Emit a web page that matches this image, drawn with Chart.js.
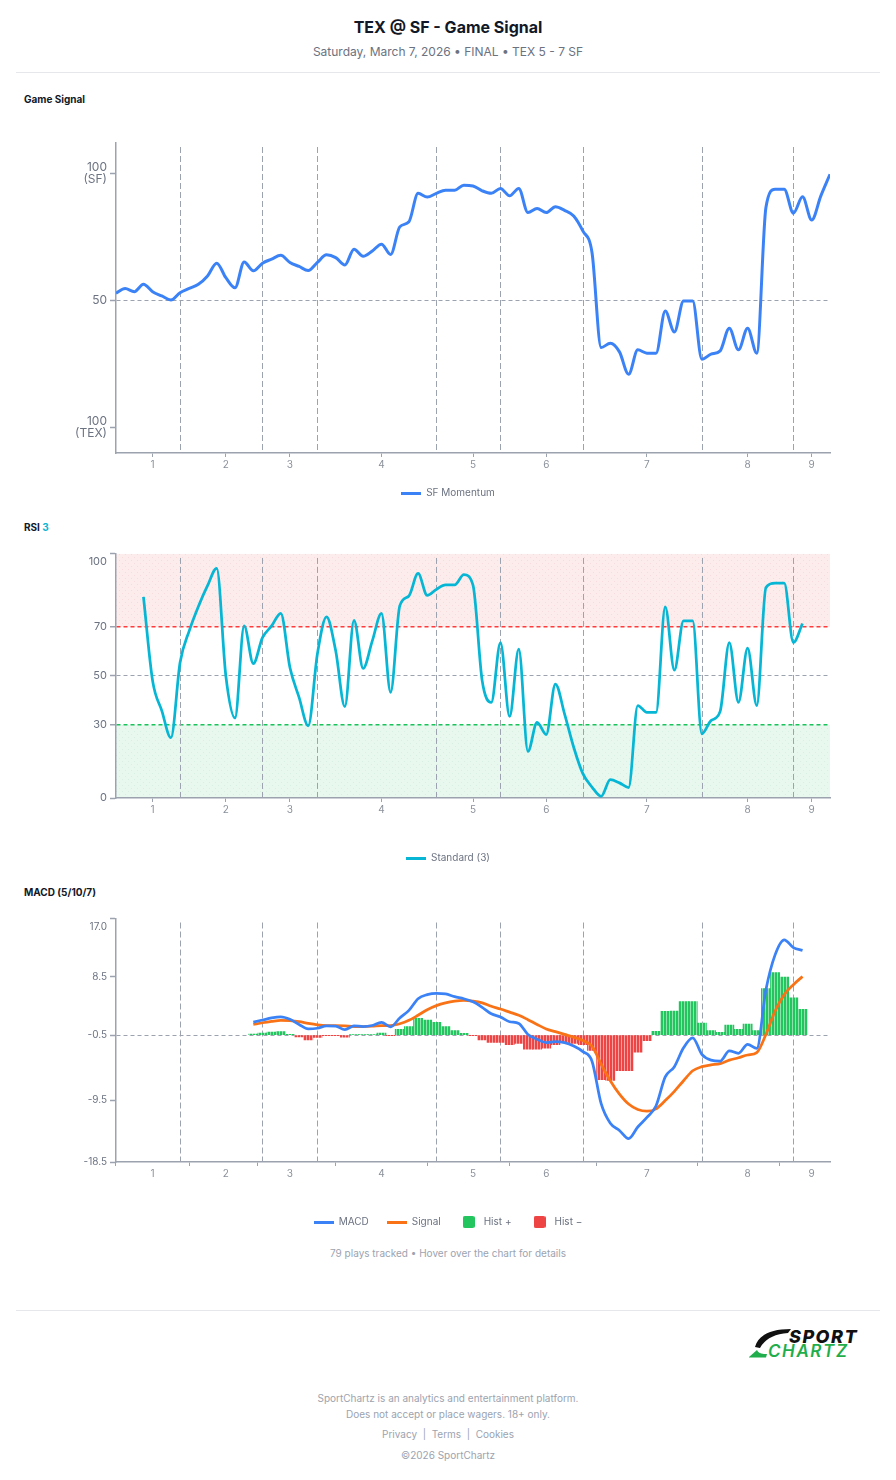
<!DOCTYPE html>
<html lang="en">
<head>
<meta charset="utf-8">
<title>TEX @ SF - Game Signal</title>
<script src="https://cdn.jsdelivr.net/npm/chart.js@4.4.1/dist/chart.umd.min.js"></script>
<style>
  html, body { margin: 0; padding: 0; background: #fff; }
  body { width: 896px; height: 1480px; position: relative; font-family: Inter, "Noto Sans", sans-serif; color: #111827; }
  .abs { position: absolute; }
  .center { left: 0; width: 896px; text-align: center; }
  .title { top: 17px; font-size: 16px; line-height: 20px; font-weight: 700; }
  .subtitle { top: 44px; font-size: 12px; line-height: 16px; color: #6b7280; }
  .rule { left: 16px; width: 864px; height: 1px; background: #e5e7eb; }
  .section { left: 24px; font-size: 10px; line-height: 14px; font-weight: 700; color: #111827; }
  .chart { left: 16px; width: 864px; }
  .note { font-size: 10px; line-height: 14px; color: #9ca3af; }
</style>
</head>
<body>
<div class="abs center title">TEX @ SF - Game Signal</div>
<div class="abs center subtitle">Saturday, March 7, 2026 • FINAL • TEX 5 - 7 SF</div>
<div class="abs rule" style="top:72px"></div>

<div class="abs section" style="top:92px">Game Signal</div>
<div class="abs chart" style="top:125px;height:383px"><canvas id="signalChart"></canvas></div>

<div class="abs section" style="top:520px">RSI <span style="color:#06b6d4">3</span></div>
<div class="abs chart" style="top:535px;height:338px"><canvas id="rsiChart"></canvas></div>

<div class="abs section" style="top:885px">MACD (5/10/7)</div>
<div class="abs chart" style="top:899px;height:338px"><canvas id="macdChart"></canvas></div>

<div class="abs center note" style="top:1246px">79 plays tracked • Hover over the chart for details</div>
<div class="abs rule" style="top:1310px"></div>

<svg class="abs" style="left:746px;top:1324px" width="124" height="38" viewBox="0 0 124 38">
  <path d="M9 23 C 12 12, 23 5, 45 5 L 42 9 C 28 10, 19 15, 14 24 Z" fill="#111"/>
  <path d="M3 33 L 11 26 C 12 29, 15 30, 21 30 L 20 33.5 L 3 33.5 Z" fill="#1fae4b"/>
  <text x="43" y="19" font-family="Inter" font-weight="800" font-style="italic" font-size="18" letter-spacing="1.5" fill="#111">SPORT</text>
  <text x="22" y="33" font-family="Inter" font-weight="600" font-style="italic" font-size="17" letter-spacing="1.6" fill="#1fae4b">CHARTZ</text>
</svg>

<div class="abs center note" style="top:1391px">SportChartz is an analytics and entertainment platform.</div>
<div class="abs center note" style="top:1407px">Does not accept or place wagers. 18+ only.</div>
<div class="abs center note" style="top:1427px">Privacy &nbsp;|&nbsp; Terms &nbsp;|&nbsp; Cookies</div>
<div class="abs center note" style="top:1448px">©2026 SportChartz</div>

<script>
// x = play number (0 = first play tracked), 79 plays
const inningLabels = ["1", "2", "3", "4", "5", "6", "7", "8", "9"];
const inningLabelPlays = [4, 12, 19, 29, 39, 47, 58, 69, 76];
const inningBreakPlays = [7, 16, 22, 35, 42, 51, 64, 74];

// Game signal: 0 = TEX 100, 50 = even, 100 = SF 100
const sfMomentum = [
  52.9, 54.7, 53.5, 56.4, 53.5, 51.8, 50.2, 53.1, 54.8, 56.4,
  59.7, 64.7, 59.0, 55.0, 65.2, 61.7, 64.7, 66.3, 67.8, 65.0,
  63.4, 61.8, 65.0, 68.0, 66.9, 64.0, 70.2, 67.4, 69.5, 72.2,
  68.1, 79.0, 81.0, 92.2, 90.7, 92.2, 93.4, 93.4, 95.4, 95.1,
  93.2, 92.2, 94.1, 91.2, 94.1, 84.6, 86.2, 84.6, 86.9, 85.5,
  83.3, 77.4, 68.9, 31.5, 33.2, 29.8, 21.0, 30.6, 29.3, 29.3,
  45.9, 37.6, 49.8, 49.8, 26.9, 28.9, 30.2, 39.1, 30.6, 39.1,
  29.3, 86.6, 93.8, 93.8, 84.4, 90.8, 81.7, 91.2, 99.7
];
const signalTicks = [0, 50, 100];
const signalTickLabels = [["100", "(TEX)"], "50", ["100", "(SF)"]];

const rsi3 = [
  null, null, null, 82.4, 48.0, 35.8, 24.7, 55.5, 68.5, 78.5,
  87.0, 94.1, 50.0, 32.8, 70.5, 55.1, 65.7, 70.5, 75.7, 53.5,
  41.2, 29.6, 59.0, 74.2, 60.3, 37.4, 72.8, 53.1, 64.4, 75.6,
  43.3, 78.7, 82.8, 92.0, 83.0, 85.5, 87.3, 87.3, 91.5, 87.2,
  48.1, 39.2, 63.7, 33.4, 61.0, 19.1, 31.0, 26.0, 46.7, 34.5,
  20.8, 10.0, 4.5, 0.7, 7.5, 6.2, 4.3, 37.9, 35.1, 35.1,
  78.3, 52.4, 72.6, 72.6, 26.3, 31.7, 35.5, 63.7, 39.2, 61.4,
  37.9, 86.2, 88.0, 88.0, 63.7, 71.5, null, null, null
];
const rsiTicks = [0, 30, 50, 70, 100];
const rsiTickLabels = ["0", "30", "50", "70", ["", "100"]];

const macdLine = [
  null, null, null, null, null, null, null, null, null, null,
  null, null, null, null, null, 1.9, 2.2, 2.5, 2.65, 2.3,
  1.55, 0.9, 1.0, 1.35, 1.3, 0.8, 1.35, 1.25, 1.4, 1.85,
  1.2, 2.5, 3.6, 5.3, 5.9, 6.1, 6.0, 5.6, 5.3, 4.85,
  4.05, 3.1, 2.65, 1.95, 1.7, 0.1, -0.6, -1.1, -0.95, -1.1,
  -1.6, -2.4, -3.8, -10.0, -12.85, -13.9, -15.1, -13.4, -12.0, -10.3,
  -6.1, -4.6, -1.85, -0.4, -2.8, -3.65, -3.8, -2.3, -2.65, -1.35,
  -1.95, 6.6, 11.7, 13.9, 12.75, 12.35, null, null, null
];
const macdSignal = [
  null, null, null, null, null, null, null, null, null, null,
  null, null, null, null, null, 1.55, 1.8, 2.0, 2.15, 2.1,
  1.95, 1.7, 1.5, 1.4, 1.4, 1.35, 1.25, 1.25, 1.3, 1.4,
  1.4, 1.65, 2.15, 2.9, 3.7, 4.3, 4.7, 4.95, 5.05, 4.95,
  4.7, 4.2, 3.8, 3.35, 2.9, 2.25, 1.55, 0.9, 0.5, 0.1,
  -0.3, -0.8, -1.6, -4.25, -6.65, -8.6, -10.05, -10.85, -11.1, -10.75,
  -9.55, -8.2, -6.65, -5.2, -4.6, -4.35, -4.15, -3.65, -3.3, -2.9,
  -2.55, 0.1, 3.5, 5.9, 7.35, 8.55, null, null, null
];
const macdHist = [
  null, null, null, null, null, null, null, null, null, null,
  null, null, null, null, null, 0.15, 0.3, 0.45, 0.5, 0.1,
  -0.25, -0.7, -0.35, -0.05, -0.05, -0.3, 0.05, 0.05, 0.05, 0.3,
  -0.05, 0.85, 1.25, 2.45, 2.2, 1.85, 1.25, 0.65, 0.25, -0.05,
  -0.7, -1.05, -1.05, -1.4, -1.2, -2.05, -2.05, -1.9, -1.4, -1.05,
  -1.2, -1.4, -2.25, -6.5, -6.6, -5.2, -5.2, -2.5, -0.8, 0.55,
  3.45, 3.5, 4.9, 4.9, 1.75, 0.65, 0.4, 1.45, 0.85, 1.6,
  0.65, 6.8, 9.1, 8.45, 5.45, 3.75, null, null, null
];
const macdTicks = [-18.5, -9.5, 0, 8.5, 17];
const macdTickLabels = ["-18.5", "-9.5", "-0.5", "8.5", ["", "17.0"]];

const BLUE = "#3b82f6";
const CYAN = "#06b6d4";
const ORANGE = "#f97316";
const GREEN = "#22c55e";
const RED = "#ef4444";
const AXIS = "#9ca3af";
const OVERBOUGHT = "#ff3b3b";
const OVERSOLD = "#19c25a";

Chart.defaults.font.family = "Inter, 'Noto Sans', sans-serif";
Chart.defaults.animation = false;

const toPoints = arr => arr.map((y, i) => ({ x: i, y: y }));

function tile(w, h, paint) {
  const c = document.createElement("canvas");
  c.width = w; c.height = h;
  paint(c.getContext("2d"));
  return c;
}
const patternCtx = document.createElement("canvas").getContext("2d");
function dotted(bg, dot) {
  return patternCtx.createPattern(tile(6, 6, g => {
    g.fillStyle = bg; g.fillRect(0, 0, 6, 6);
    g.fillStyle = dot; g.fillRect(1, 1, 1, 1); g.fillRect(4, 4, 1, 1);
  }), "repeat");
}
function striped(main, light) {
  return patternCtx.createPattern(tile(3, 4, g => {
    g.fillStyle = main; g.fillRect(0, 0, 3, 4);
    g.fillStyle = light; g.fillRect(2, 0, 1, 4);
  }), "repeat");
}
const lineMarker = color => tile(20, 3, g => { g.fillStyle = color; g.fillRect(0, 0, 20, 3); });
const boxMarker = color => tile(12, 12, g => {
  g.fillStyle = color; g.beginPath();
  if (g.roundRect) g.roundRect(0, 0, 12, 12, 2); else g.rect(0, 0, 12, 12);
  g.fill();
});

// shaded zones under the axes, dashed inning breaks under the data
function guides(bands) {
  return {
    id: "guides",
    beforeDraw(chart) {
      const { ctx, chartArea: a, scales: { y } } = chart;
      ctx.save();
      bands.forEach(b => {
        const top = y.getPixelForValue(b.to);
        const bottom = y.getPixelForValue(b.from);
        ctx.fillStyle = b.fill;
        ctx.fillRect(a.left, top, a.right - a.left, bottom - top);
      });
      ctx.restore();
    },
    beforeDatasetsDraw(chart) {
      const { ctx, chartArea: a, scales: { x } } = chart;
      ctx.save();
      ctx.lineWidth = 1;
      ctx.strokeStyle = AXIS;
      ctx.setLineDash([6, 3]);
      inningBreakPlays.forEach(p => {
        const px = Math.round(x.getPixelForValue(p)) + 0.5;
        ctx.beginPath(); ctx.moveTo(px, a.top + 4); ctx.lineTo(px, a.bottom); ctx.stroke();
      });
      ctx.restore();
    }
  };
}

function playAxis(height) {
  return {
    type: "linear", min: 0, max: 78, offset: false,
    afterBuildTicks: s => { s.ticks = inningLabelPlays.map(v => ({ value: v })); },
    afterFit: s => { s.height = height; },
    ticks: { autoSkip: false, maxRotation: 0, padding: 2, color: "#8b919b", font: { size: 10 },
             callback: (v, i) => inningLabels[i] },
    grid: { drawOnChartArea: false, tickLength: 4, tickColor: AXIS, tickWidth: 1 },
    border: { color: AXIS, width: 1.5 }
  };
}

// levels: { value: colour } for the dashed horizontal guide lines
function valueAxis(min, max, ticks, labels, font, levels) {
  const levelColor = c => (c.tick && levels[c.tick.value]) || null;
  return {
    min: min, max: max,
    afterBuildTicks: s => { s.ticks = ticks.map(v => ({ value: v })); },
    afterFit: s => { s.width = 100; },
    ticks: { color: "#6b7280", font: font, padding: 3, callback: (v, i) => labels[i] },
    grid: {
      drawOnChartArea: true,
      color: c => levelColor(c) || "rgba(0,0,0,0)",
      lineWidth: c => (levelColor(c) && levelColor(c) !== AXIS ? 1.5 : 1),
      tickLength: 6, tickColor: AXIS, tickWidth: 1.5
    },
    border: { color: AXIS, width: 1.5, dash: [4, 3] }
  };
}

// empty right-hand axis keeps the plot 50px from the edge while the legend stays centred
const rightGap = {
  type: "linear", position: "right",
  afterFit: s => { s.width = 50; },
  ticks: { display: false },
  grid: { display: false, drawTicks: false },
  border: { display: false }
};

function legend(items) {
  return {
    position: "bottom",
    labels: {
      usePointStyle: true, pointStyleWidth: 20, padding: 18, color: "#6b7280",
      font: { size: 10 },
      generateLabels: () => items.map((it, i) => ({
        text: it.text, pointStyle: it.marker, fillStyle: "transparent", strokeStyle: "transparent",
        lineWidth: 0, hidden: false, datasetIndex: i, fontColor: "#6b7280"
      }))
    }
  };
}

const layout = { padding: { top: 18, right: 0, left: 0, bottom: 0 } };

new Chart(document.getElementById("signalChart"), {
  type: "line",
  data: {
    datasets: [{
      label: "SF Momentum",
      data: toPoints(sfMomentum),
      borderColor: BLUE, borderWidth: 3,
      pointRadius: 0, pointHoverRadius: 0,
      cubicInterpolationMode: "monotone"
    }]
  },
  options: {
    responsive: true, maintainAspectRatio: false, layout: layout,
    plugins: {
      legend: legend([{ text: "SF Momentum", marker: lineMarker(BLUE) }]),
      tooltip: { enabled: false }
    },
    scales: {
      x: playAxis(17),
      y: valueAxis(-10, 112, signalTicks, signalTickLabels, { size: 12, lineHeight: 1.0 }, { 50: AXIS }),
      gap: rightGap
    }
  },
  plugins: [guides([])]
});

new Chart(document.getElementById("rsiChart"), {
  type: "line",
  data: {
    datasets: [{
      label: "Standard (3)",
      data: toPoints(rsi3),
      borderColor: CYAN, borderWidth: 2.75,
      pointRadius: 0, pointHoverRadius: 0,
      cubicInterpolationMode: "monotone"
    }]
  },
  options: {
    responsive: true, maintainAspectRatio: false, layout: layout,
    plugins: {
      legend: legend([{ text: "Standard (3)", marker: lineMarker(CYAN) }]),
      tooltip: { enabled: false }
    },
    scales: {
      x: playAxis(37),
      y: valueAxis(0, 100, rsiTicks, rsiTickLabels, { size: 11, lineHeight: 1.45 },
                   { 70: OVERBOUGHT, 50: AXIS, 30: OVERSOLD }),
      gap: rightGap
    }
  },
  plugins: [guides([
    { from: 70, to: 100, fill: dotted("#fdecec", "#f6dcdc") },
    { from: 0, to: 30, fill: dotted("#e9f8ef", "#d9efe1") }
  ])]
});

const greenBars = striped(GREEN, "#8fe2ad");
const redBars = striped(RED, "#f7a3a3");

new Chart(document.getElementById("macdChart"), {
  type: "line",
  data: {
    datasets: [
      {
        label: "MACD",
        data: toPoints(macdLine),
        borderColor: BLUE, borderWidth: 2.75,
        pointRadius: 0, pointHoverRadius: 0,
        cubicInterpolationMode: "monotone", order: 0
      },
      {
        label: "Signal",
        data: toPoints(macdSignal),
        borderColor: ORANGE, borderWidth: 2.75,
        pointRadius: 0, pointHoverRadius: 0,
        cubicInterpolationMode: "monotone", order: 1
      },
      {
        type: "bar",
        label: "Hist",
        data: toPoints(macdHist),
        backgroundColor: ctx => (ctx.raw && ctx.raw.y < 0 ? redBars : greenBars),
        borderWidth: 0,
        barPercentage: 1, categoryPercentage: 1,
        order: 2
      }
    ]
  },
  options: {
    responsive: true, maintainAspectRatio: false, layout: layout,
    plugins: {
      legend: legend([
        { text: "MACD", marker: lineMarker(BLUE) },
        { text: "Signal", marker: lineMarker(ORANGE) },
        { text: "Hist +", marker: boxMarker(GREEN) },
        { text: "Hist −", marker: boxMarker(RED) }
      ]),
      tooltip: { enabled: false }
    },
    scales: {
      x: playAxis(37),
      y: valueAxis(-18.5, 17, macdTicks, macdTickLabels, { size: 10, lineHeight: 1.65 }, { 0: AXIS }),
      gap: rightGap
    }
  },
  plugins: [guides([])]
});
</script>
</body>
</html>
